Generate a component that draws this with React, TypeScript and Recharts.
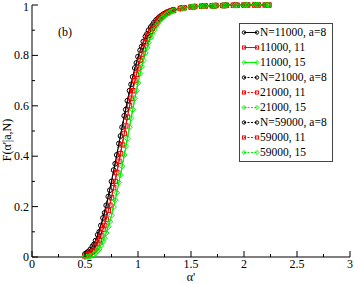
import React from 'react';
import { LineChart, Line, XAxis, YAxis, Legend } from 'recharts';

const x11 = [0.5,0.55,0.6,0.65,0.7,0.75,0.8,0.85,0.9,0.95,1.0,1.05,1.1,1.15,1.2,1.25,1.3,1.4,1.5,1.6,1.7,1.8,1.9,2.0,2.1,2.2];
const x21 = [0.52,0.57,0.62,0.67,0.72,0.77,0.82,0.87,0.92,0.97,1.02,1.07,1.12,1.17,1.22,1.27,1.32,1.42,1.52,1.62,1.72,1.82,1.92,2.02,2.12,2.22];
const x59 = [0.535,0.585,0.635,0.685,0.735,0.785,0.835,0.885,0.935,0.985,1.035,1.085,1.135,1.185,1.235,1.285,1.335,1.435,1.535,1.635,1.735,1.835,1.935,2.035,2.135,2.235];

const a8N11000 = [0.012,0.03,0.065,0.125,0.205,0.30,0.405,0.515,0.62,0.715,0.795,0.855,0.90,0.93,0.952,0.966,0.976,0.987,0.992,0.995,0.997,0.998,0.999,0.999,1.0,1.0];
const a8N21000 = [0.018,0.042,0.088,0.155,0.24,0.345,0.45,0.56,0.66,0.75,0.82,0.875,0.912,0.94,0.958,0.971,0.979,0.988,0.993,0.996,0.997,0.998,0.999,1.0,1.0,1.0];
const a8N59000 = [0.022,0.05,0.10,0.175,0.265,0.37,0.48,0.585,0.685,0.77,0.835,0.885,0.92,0.945,0.962,0.973,0.981,0.989,0.994,0.996,0.998,0.999,0.999,1.0,1.0,1.0];
const a11N11000 = [0.004,0.015,0.04,0.085,0.15,0.235,0.335,0.445,0.555,0.66,0.75,0.825,0.88,0.918,0.945,0.962,0.974,0.986,0.992,0.995,0.997,0.998,0.999,1.0,1.0,1.0];
const a11N21000 = [0.008,0.022,0.055,0.11,0.185,0.275,0.38,0.49,0.60,0.70,0.78,0.85,0.895,0.928,0.951,0.967,0.977,0.988,0.993,0.996,0.997,0.998,0.999,1.0,1.0,1.0];
const a11N59000 = [0.01,0.028,0.065,0.125,0.205,0.30,0.41,0.52,0.63,0.725,0.805,0.865,0.908,0.937,0.957,0.97,0.979,0.989,0.994,0.996,0.998,0.999,0.999,1.0,1.0,1.0];
const a15N11000 = [0.0,0.004,0.016,0.045,0.095,0.165,0.255,0.36,0.47,0.585,0.69,0.78,0.85,0.90,0.935,0.957,0.971,0.985,0.992,0.995,0.997,0.998,0.999,0.999,1.0,1.0];
const a15N21000 = [0.001,0.007,0.025,0.062,0.12,0.198,0.295,0.405,0.515,0.63,0.728,0.81,0.872,0.915,0.945,0.963,0.975,0.987,0.993,0.996,0.997,0.998,0.999,1.0,1.0,1.0];
const a15N59000 = [0.002,0.01,0.033,0.075,0.14,0.225,0.325,0.44,0.55,0.66,0.755,0.83,0.887,0.925,0.95,0.967,0.978,0.988,0.993,0.996,0.998,0.999,0.999,1.0,1.0,1.0];

const xTicks = [0,0.25,0.5,0.75,1,1.25,1.5,1.75,2,2.25,2.5,2.75,3];
const yTicks = [0,0.1,0.2,0.3,0.4,0.5,0.6,0.7,0.8,0.9,1];
const xLabels: Record<string,string> = {'0':'0','0.5':'0.5','1':'1','1.5':'1.5','2':'2','2.5':'2.5','3':'3'};
const yLabels: Record<string,string> = {'0':'0','0.2':'0.2','0.4':'0.4','0.6':'0.6','0.8':'0.8','1':'1'};

const zip = (xs: number[], ys: number[]) => xs.map((x, i) => ({ x, y: ys[i] }));

type S = { name: string; data: {x:number;y:number}[]; color: string; marker: 'circle'|'square'|'diamond'; dash?: string };
const series: S[] = [
  { name: 'N=11000, a=8', data: zip(x11, a8N11000), color: '#000000', marker: 'circle' },
  { name: '11000, 11', data: zip(x11, a11N11000), color: '#ff0000', marker: 'square' },
  { name: '11000, 15', data: zip(x11, a15N11000), color: '#00ee00', marker: 'diamond' },
  { name: 'N=21000, a=8', data: zip(x21, a8N21000), color: '#000000', marker: 'circle', dash: '3 2' },
  { name: '21000, 11', data: zip(x21, a11N21000), color: '#ff0000', marker: 'square', dash: '3 2' },
  { name: '21000, 15', data: zip(x21, a15N21000), color: '#00ee00', marker: 'diamond', dash: '3 2' },
  { name: 'N=59000, a=8', data: zip(x59, a8N59000), color: '#000000', marker: 'circle', dash: '5 2 1 2' },
  { name: '59000, 11', data: zip(x59, a11N59000), color: '#ff0000', marker: 'square', dash: '5 2 1 2' },
  { name: '59000, 15', data: zip(x59, a15N59000), color: '#00ee00', marker: 'diamond', dash: '5 2 1 2' },
];
const drawOrder = [0,3,6,1,4,7,2,5,8];

const FONT = 'Liberation Serif, Times New Roman, serif';
const fontStyle = { fontFamily: FONT };

const Marker = ({ cx, cy, kind, color, s = 1 }: any) => {
  if (cx == null || cy == null) return null;
  if (kind === 'circle') return <circle cx={cx} cy={cy} r={2.4 * s} fill="none" stroke={color} strokeWidth={1} />;
  if (kind === 'square') return <rect x={cx - 2.2 * s} y={cy - 2.2 * s} width={4.4 * s} height={4.4 * s} fill="none" stroke={color} strokeWidth={1} />;
  const d = 2.8 * s;
  return <path d={`M${cx},${cy - d}L${cx + d},${cy}L${cx},${cy + d}L${cx - d},${cy}Z`} fill="none" stroke={color} strokeWidth={1} />;
};

const XTick = ({ x, y, payload, top }: any) => {
  const key = String(payload.value);
  const major = key in xLabels;
  const len = major ? 6 : 3;
  return (
    <g>
      <line x1={x} x2={x} y1={y} y2={top ? y + len : y - len} stroke="#000" strokeWidth={1} />
      {!top && major ? (
        <text x={x} y={y + 11} textAnchor="middle" style={fontStyle} fontSize={12} fill="#000">{xLabels[key]}</text>
      ) : null}
    </g>
  );
};

const YTick = ({ x, y, payload, right }: any) => {
  const key = String(payload.value);
  const major = key in yLabels;
  const len = major ? 6 : 3;
  return (
    <g>
      <line x1={x} x2={right ? x - len : x + len} y1={y} y2={y} stroke="#000" strokeWidth={1} />
      {!right && major ? (
        <text x={x - 3} y={key === '1' ? y + 5.5 : y + 4} textAnchor="end" style={fontStyle} fontSize={12} fill="#000">{yLabels[key]}</text>
      ) : null}
    </g>
  );
};

const LegendBox = () => (
  <div style={{ border: '1px solid #444', background: '#fff', width: 92, padding: '1px 0', fontFamily: FONT, fontSize: 11.5, lineHeight: '15px' }}>
    {series.map((s, i) => (
      <div key={i} style={{ display: 'flex', alignItems: 'center', height: 15, whiteSpace: 'nowrap' }}>
        <svg width={20} height={15} style={{ flex: 'none' }}>
          <line x1={4} x2={17} y1={7.5} y2={7.5} stroke={s.color} strokeWidth={1} strokeDasharray={s.dash ? '2 1.5' : undefined} />
          <Marker cx={4} cy={7.5} kind={s.marker} color={s.color} s={0.7} />
          <Marker cx={17} cy={7.5} kind={s.marker} color={s.color} s={0.7} />
        </svg>
        <span>{s.name}</span>
      </div>
    ))}
  </div>
);

export default function App() {
  return (
    <div style={{ position: 'absolute', left: 0, top: 0, width: 354, height: 284, background: '#fff' }}>
      <LineChart width={354} height={284} margin={{ top: 5, right: 4, bottom: 0, left: 0 }}>
        <XAxis xAxisId="b" dataKey="x" type="number" domain={[0, 3]} ticks={xTicks} interval={0} height={27}
          tickSize={0} tickMargin={0} tickLine={false} axisLine={{ stroke: '#000' }} tick={<XTick />} allowDataOverflow />
        <XAxis xAxisId="t" orientation="top" dataKey="x" type="number" domain={[0, 3]} ticks={xTicks} interval={0} height={0}
          tickSize={0} tickMargin={0} tickLine={false} axisLine={{ stroke: '#000' }} tick={<XTick top />} />
        <YAxis yAxisId="l" type="number" domain={[0, 1]} ticks={yTicks} interval={0} width={32}
          tickSize={0} tickMargin={0} tickLine={false} axisLine={{ stroke: '#000' }} tick={<YTick />} />
        <YAxis yAxisId="r" orientation="right" type="number" domain={[0, 1]} ticks={yTicks} interval={0} width={0}
          tickSize={0} tickMargin={0} tickLine={false} axisLine={{ stroke: '#000' }} tick={<YTick right />} />
        {drawOrder.map((i) => {
          const s = series[i];
          return (
            <Line key={i} xAxisId="b" yAxisId="l" data={s.data} dataKey="y" name={s.name} type="linear"
              stroke={s.color} strokeWidth={1} strokeDasharray={s.dash}
              dot={(p: any) => <Marker key={`${i}-${p.index}`} cx={p.cx} cy={p.cy} kind={s.marker} color={s.color} />}
              isAnimationActive={false} />
          );
        })}
        <Legend layout="horizontal" verticalAlign="middle" align="center" content={<LegendBox />}
          wrapperStyle={{ position: 'absolute', left: 239, top: 23, width: 94, height: 136 }} />
        <text x={65} y={36} textAnchor="middle" style={fontStyle} fontSize={12} fill="#000">(b)</text>
        <text x={191} y={281} textAnchor="middle" style={fontStyle} fontSize={12} fill="#000">α'</text>
        <text x={11} y={140} transform="rotate(-90 11 140)" textAnchor="middle" style={fontStyle} fontSize={12} fill="#000">F(α'|a,N)</text>
      </LineChart>
    </div>
  );
}
